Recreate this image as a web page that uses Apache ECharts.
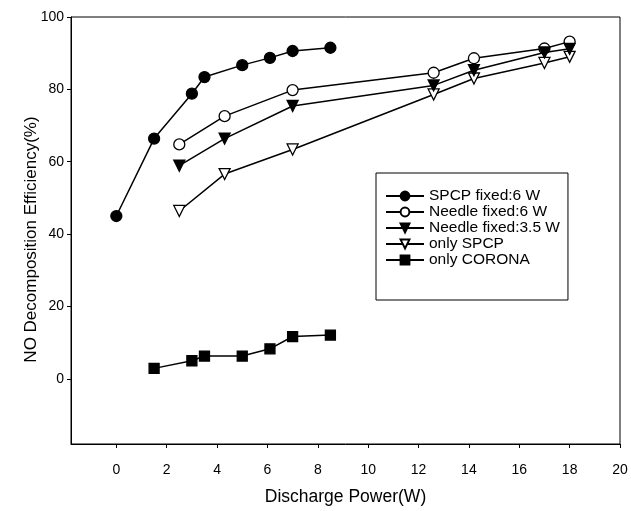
<!DOCTYPE html>
<html>
<head>
<meta charset="utf-8">
<script src="https://cdn.jsdelivr.net/npm/echarts@6/dist/echarts.min.js"></script>
<style>html,body{margin:0;padding:0;background:#fff;}#c{width:631px;height:511px;}</style>
</head>
<body>
<div id="c"></div>
<script>
const xTicks = [0,2,4,6,8,10,12,14,16,18,20];
const yTicks = [0,20,40,60,80,100];
const spcpFixedX = [0, 1.5, 3, 3.5, 5, 6.1, 7, 8.5];
const spcpFixedY = [45, 66.4, 78.8, 83.4, 86.7, 88.7, 90.6, 91.5];
const needle6X = [2.5, 4.3, 7, 12.6, 14.2, 17, 18];
const needle6Y = [64.8, 72.6, 79.8, 84.6, 88.6, 91.3, 93.2];
const needle35X = [2.5, 4.3, 7, 12.6, 14.2, 17, 18];
const needle35Y = [58.9, 66.4, 75.4, 81.1, 85.3, 90.2, 91.2];
const onlySpcpX = [2.5, 4.3, 7, 12.6, 14.2, 17, 18];
const onlySpcpY = [46.4, 56.6, 63.4, 78.6, 83.0, 87.3, 89.0];
const coronaX = [1.5, 3, 3.5, 5, 6.1, 7, 8.5];
const coronaY = [2.9, 5.0, 6.3, 6.3, 8.3, 11.7, 12.1];
const names = ['SPCP fixed:6 W', 'Needle fixed:6 W', 'Needle fixed:3.5 W', 'only SPCP', 'only CORONA'];

const zip = (a, b) => a.map((v, i) => [v, b[i]]);
const font = '"Liberation Sans", Arial, sans-serif';
const lineStyle = {color: '#000', width: 1.5};
function mk(name, xs, ys, symbol, filled, rotate, size) {
  return {
    name, type: 'line', data: zip(xs, ys), symbol, symbolSize: size,
    symbolRotate: rotate, showAllSymbol: true,
    lineStyle, itemStyle: {color: filled ? '#000' : '#fff', borderColor: '#000', borderWidth: 1.3},
    emphasis: {disabled: true}, animation: false, z: filled ? 3 : 2
  };
}
const chart = echarts.init(document.getElementById('c'));
chart.setOption({
  backgroundColor: '#fff',
  animation: false,
  grid: {left: 71, top: 17, right: 11, bottom: 67, show: true, borderColor: '#000', borderWidth: 1},
  legend: {
    data: names, orient: 'vertical', left: 376, top: 173,
    itemWidth: 38, itemHeight: 11, itemGap: 0,
    padding: [15, 8, 32, 9],
    borderColor: '#000', borderWidth: 1,
    textStyle: {fontFamily: font, fontSize: 15.5, lineHeight: 14, color: '#000'}
  },
  xAxis: {
    type: 'value', min: -1.8, max: 20,
    name: 'Discharge Power(W)', nameLocation: 'middle', nameGap: 44,
    nameTextStyle: {fontFamily: font, fontSize: 17.5, color: '#000'},
    axisLine: {onZero: false, lineStyle: {color: '#000'}},
    axisTick: {show: true, length: 4, customValues: xTicks, lineStyle: {color: '#000'}},
    axisLabel: {customValues: xTicks, fontFamily: font, fontSize: 14, color: '#000', margin: 19},
    splitLine: {show: false}
  },
  yAxis: {
    type: 'value', min: -18, max: 100,
    name: 'NO Decomposition Efficiency(%)', nameLocation: 'middle', nameGap: 31, nameMoveOverlap: false,
    nameTextStyle: {fontFamily: font, fontSize: 17, color: '#000', padding: [0, 18, 0, 0]},
    axisLine: {show: true, onZero: false, lineStyle: {color: '#000'}},
    axisTick: {show: true, length: 4, customValues: yTicks, lineStyle: {color: '#000'}},
    axisLabel: {customValues: yTicks, fontFamily: font, fontSize: 14, color: '#000', margin: 7},
    splitLine: {show: false}
  },
  series: [
    mk(names[0], spcpFixedX, spcpFixedY, 'circle', true, 0, 11),
    mk(names[1], needle6X, needle6Y, 'circle', false, 0, 11),
    mk(names[2], needle35X, needle35Y, 'triangle', true, 180, 11),
    mk(names[3], onlySpcpX, onlySpcpY, 'triangle', false, 180, 11),
    mk(names[4], coronaX, coronaY, 'rect', true, 0, 10)
  ]
});
</script>
</body>
</html>
